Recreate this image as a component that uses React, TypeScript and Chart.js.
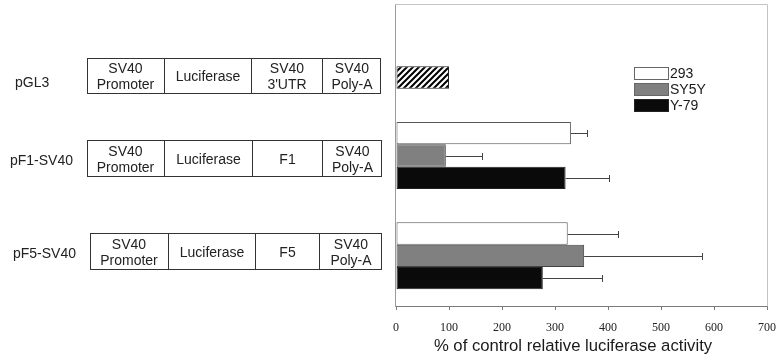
import React, { useEffect, useRef } from 'react';
import { Chart, registerables } from 'chart.js';

Chart.register(...registerables);

// ---- data ----
const constructs = ['pGL3', 'pF1-SV40', 'pF5-SV40'];
const seriesNames = ['293', 'SY5Y', 'Y-79'];
const values293: (number | null)[] = [null, 330, 324];
const errors293: (number | null)[] = [null, 30, 95];
const valuesSY5Y: (number | null)[] = [null, 94, 355];
const errorsSY5Y: (number | null)[] = [null, 68, 223];
const valuesY79: (number | null)[] = [100, 320, 277];
const errorsY79: (number | null)[] = [null, 82, 111];
const xTicks = [0, 100, 200, 300, 400, 500, 600, 700];
const xTitle = '% of control relative luciferase activity';
const partsPGL3 = ['SV40\nPromoter', 'Luciferase', "SV40\n3'UTR", 'SV40\nPoly-A'];
const partsPF1 = ['SV40\nPromoter', 'Luciferase', 'F1', 'SV40\nPoly-A'];
const partsPF5 = ['SV40\nPromoter', 'Luciferase', 'F5', 'SV40\nPoly-A'];

// ---- layout / style ----
const W = 781;
const H = 358;
const FONT = '"Liberation Sans", Arial, sans-serif';
const seriesFill = ['#ffffff', '#808080', '#0a0a0a'];
const seriesBorder = ['#555555', '#444444', '#222222'];

const rowLayout = [
  { labelX: 15, cy: 82, x: 87, y: 58, w: 294, h: 36, cuts: [164, 251, 322] },
  { labelX: 10, cy: 160, x: 87, y: 140, w: 295, h: 37, cuts: [164, 252, 322] },
  { labelX: 13, cy: 253, x: 90, y: 233, w: 292, h: 37, cuts: [168, 255, 319] },
];
const rowParts = [partsPGL3, partsPF1, partsPF5];

function makeHatch(): CanvasPattern | string {
  const c = document.createElement('canvas');
  c.width = 6;
  c.height = 6;
  const g = c.getContext('2d');
  if (!g) return '#000';
  g.fillStyle = '#ffffff';
  g.fillRect(0, 0, 6, 6);
  g.strokeStyle = '#000000';
  g.lineWidth = 2;
  g.beginPath();
  g.moveTo(-1, 7);
  g.lineTo(7, -1);
  g.moveTo(-4, 4);
  g.lineTo(4, -4);
  g.moveTo(2, 10);
  g.lineTo(10, 2);
  g.stroke();
  const p = g.createPattern(c, 'repeat');
  return p || '#000';
}

export default function App() {
  const ref = useRef<HTMLCanvasElement | null>(null);

  useEffect(() => {
    if (!ref.current) return;
    const hatch = makeHatch();
    const values = [values293, valuesSY5Y, valuesY79];
    const errors = [errors293, errorsSY5Y, errorsY79];

    const framePlugin = {
      id: 'frame',
      afterDatasetsDraw(chart: any) {
        const { ctx, scales } = chart;
        const xs = scales.x;
        // error bars
        ctx.save();
        ctx.strokeStyle = '#444444';
        ctx.lineWidth = 1;
        errors.forEach((errs, di) => {
          const meta = chart.getDatasetMeta(di);
          meta.data.forEach((bar: any, i: number) => {
            const v = values[di][i];
            const e = errs[i];
            if (v == null || e == null) return;
            const x0 = xs.getPixelForValue(v);
            const x1 = Math.round(xs.getPixelForValue(v + e)) + 0.5;
            const y = Math.round(bar.y) + 0.5;
            ctx.beginPath();
            ctx.moveTo(x0, y);
            ctx.lineTo(x1, y);
            ctx.moveTo(x1, y - 3.5);
            ctx.lineTo(x1, y + 3.5);
            ctx.stroke();
          });
        });
        ctx.restore();
      },
      afterDraw(chart: any) {
        const { ctx, chartArea: a } = chart;
        ctx.save();
        ctx.lineWidth = 1;
        const l = Math.round(a.left) - 0.5;
        const r = Math.round(a.right) + 0.5;
        const t = Math.round(a.top) - 0.5;
        const b = Math.round(a.bottom) + 0.5;
        ctx.strokeStyle = '#c4c4c4';
        ctx.beginPath();
        ctx.moveTo(l, t);
        ctx.lineTo(r, t);
        ctx.lineTo(r, b);
        ctx.stroke();
        ctx.strokeStyle = '#9a9a9a';
        ctx.beginPath();
        ctx.moveTo(l, t);
        ctx.lineTo(l, b);
        ctx.stroke();
        ctx.strokeStyle = '#7a7a7a';
        ctx.beginPath();
        ctx.moveTo(l, b);
        ctx.lineTo(r, b);
        ctx.stroke();
        // axis title (offset left of the plot centre, as in the original)
        ctx.fillStyle = '#1a1a1a';
        ctx.font = '16.7px ' + FONT;
        ctx.textAlign = 'center';
        ctx.textBaseline = 'middle';
        ctx.fillText(xTitle, 573, 346);
        // legend
        const lx = 634;
        const ly = 67;
        seriesNames.forEach((name, i) => {
          const y = ly + i * 16;
          ctx.fillStyle = seriesFill[i];
          ctx.fillRect(lx, y, 35, 13);
          ctx.strokeStyle = i === 2 ? '#222222' : '#666666';
          ctx.strokeRect(lx + 0.5, y + 0.5, 34, 12);
          ctx.fillStyle = '#1a1a1a';
          ctx.font = '14px ' + FONT;
          ctx.textBaseline = 'middle';
          ctx.textAlign = 'left';
          ctx.fillText(name, lx + 36, y + 7);
        });
        ctx.restore();
      },
    };

    const chart = new Chart(ref.current, {
      type: 'bar',
      data: {
        labels: constructs,
        datasets: [
          {
            label: seriesNames[0],
            data: values293,
            backgroundColor: seriesFill[0],
            borderColor: seriesBorder[0],
            borderWidth: 1,
            borderSkipped: false,
          },
          {
            label: seriesNames[1],
            data: valuesSY5Y,
            backgroundColor: seriesFill[1],
            borderColor: seriesBorder[1],
            borderWidth: 1,
            borderSkipped: false,
          },
          {
            label: seriesNames[2],
            data: valuesY79,
            backgroundColor: [hatch, seriesFill[2], seriesFill[2]],
            borderColor: seriesBorder[2],
            borderWidth: 1,
            borderSkipped: false,
          },
        ] as any,
      },
      options: {
        indexAxis: 'y',
        responsive: false,
        animation: false,
        devicePixelRatio: 1,
        layout: { padding: { left: 396, right: 14, top: 5, bottom: 0 } },
        datasets: { bar: { barPercentage: 1, categoryPercentage: 0.667 } },
        plugins: { legend: { display: false }, tooltip: { enabled: false } },
        scales: {
          x: {
            type: 'linear',
            position: 'bottom',
            min: 0,
            max: 700,
            afterBuildTicks: (s: any) => {
              s.ticks = xTicks.map((v) => ({ value: v }));
            },
            afterFit: (s: any) => {
              s.height = 52;
              s.paddingLeft = 0;
              s.paddingRight = 0;
            },
            ticks: {
              color: '#222222',
              padding: 11,
              font: { family: '"Liberation Serif", "Times New Roman", serif', size: 12 },
            },
            grid: { drawOnChartArea: false, drawTicks: true, tickLength: 4, color: '#7a7a7a' },
            border: { display: false },
            title: { display: false },
          },
          y: {
            type: 'category',
            display: false,
          },
        },
      } as any,
      plugins: [framePlugin],
    });
    return () => chart.destroy();
  }, []);

  return (
    <div style={{ position: 'absolute', left: 0, top: 0, width: W, height: H, background: '#fff', fontFamily: FONT }}>
      <canvas ref={ref} width={W} height={H} style={{ position: 'absolute', left: 0, top: 0, width: W, height: H }} />
      {rowLayout.map((row, ri) => {
        const edges = [row.x, ...row.cuts, row.x + row.w];
        return (
          <React.Fragment key={ri}>
            <div
              style={{
                position: 'absolute',
                left: row.labelX,
                top: row.cy - 9,
                fontSize: 14,
                lineHeight: '18px',
                color: '#222',
                whiteSpace: 'nowrap',
              }}
            >
              {constructs[ri]}
            </div>
            <div
              style={{
                position: 'absolute',
                left: row.x,
                top: row.y,
                width: row.w,
                height: row.h,
                border: '1px solid #333',
                boxSizing: 'border-box',
              }}
            />
            {rowParts[ri].map((txt, ci) => (
              <div
                key={ci}
                style={{
                  position: 'absolute',
                  left: edges[ci],
                  top: row.y,
                  width: edges[ci + 1] - edges[ci],
                  height: row.h,
                  borderLeft: ci > 0 ? '1px solid #333' : 'none',
                  boxSizing: 'border-box',
                  display: 'flex',
                  alignItems: 'center',
                  justifyContent: 'center',
                  textAlign: 'center',
                  whiteSpace: 'pre-line',
                  fontSize: 14,
                  lineHeight: '16px',
                  color: '#222',
                }}
              >
                {txt}
              </div>
            ))}
          </React.Fragment>
        );
      })}
    </div>
  );
}
